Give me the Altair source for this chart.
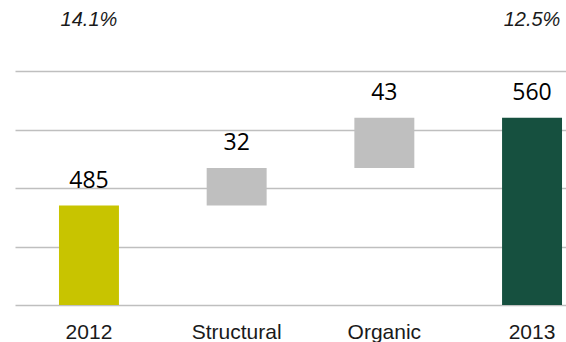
import altair as alt
import pandas as pd

# Waterfall: 2012 total, two increments, 2013 total
categories = ["2012", "Structural", "Organic", "2013"]
values = [485, 32, 43, 560]
kinds = ["total", "delta", "delta", "total"]
margins = ["14.1%", "", "", "12.5%"]
bar_colors = ["#C8C400", "#BFBFBF", "#BFBFBF", "#16503F"]

rows = []
running = 0
for cat, val, kind, mg, col in zip(categories, values, kinds, margins, bar_colors):
    if kind == "total":
        start, end = 0, val
        running = val
    else:
        start, end = running, running + val
        running = end
    rows.append({"cat": cat, "value": val, "start": start, "end": end,
                 "margin": mg, "color": col})
df = pd.DataFrame(rows)

x = alt.X(
    "cat:N",
    sort=categories,
    title=None,
    scale=alt.Scale(paddingInner=0.594, paddingOuter=0.1624, align=0.917),
    axis=alt.Axis(
        labelAngle=0, ticks=False, domain=False, grid=False,
        labelFont="Liberation Sans", labelFontSize=21, labelColor="#1a1a1a",
        labelPadding=16,
    ),
)

y_scale = alt.Scale(domain=[400, 600], nice=False, zero=False)

base = alt.Chart(df)

bars = base.mark_bar(clip=True).encode(
    x=x,
    y=alt.Y(
        "end:Q", scale=y_scale, title=None,
        axis=alt.Axis(values=[400, 450, 500, 550, 600], labels=False,
                      ticks=False, domain=False, gridColor="#BFBFBF",
                      gridWidth=1.5),
    ),
    y2="start:Q",
    color=alt.Color("color:N", scale=None, legend=None),
)

value_labels = base.mark_text(
    font="Open Sans", fontSize=23, baseline="bottom", dy=-13, color="#000000",
).encode(
    x=alt.X("cat:N", sort=categories),
    y=alt.Y("end:Q", scale=y_scale),
    text=alt.Text("value:Q"),
)

margin_labels = base.transform_filter(alt.datum.margin != "").mark_text(
    font="Liberation Sans", fontSize=20, fontStyle="italic",
    baseline="middle", color="#1a1a1a",
).encode(
    x=alt.X("cat:N", sort=categories),
    y=alt.value(-51),
    text="margin:N",
)

chart = (
    alt.layer(bars, value_labels, margin_labels)
    .properties(
        width=551, height=234,
        autosize=alt.AutoSizeParams(type="none"),
        padding={"left": 15, "right": 0, "top": 71, "bottom": 37},
    )
    .configure_view(stroke=None)
)

chart.save("out.html", embed_options={"renderer": "svg", "actions": False})
